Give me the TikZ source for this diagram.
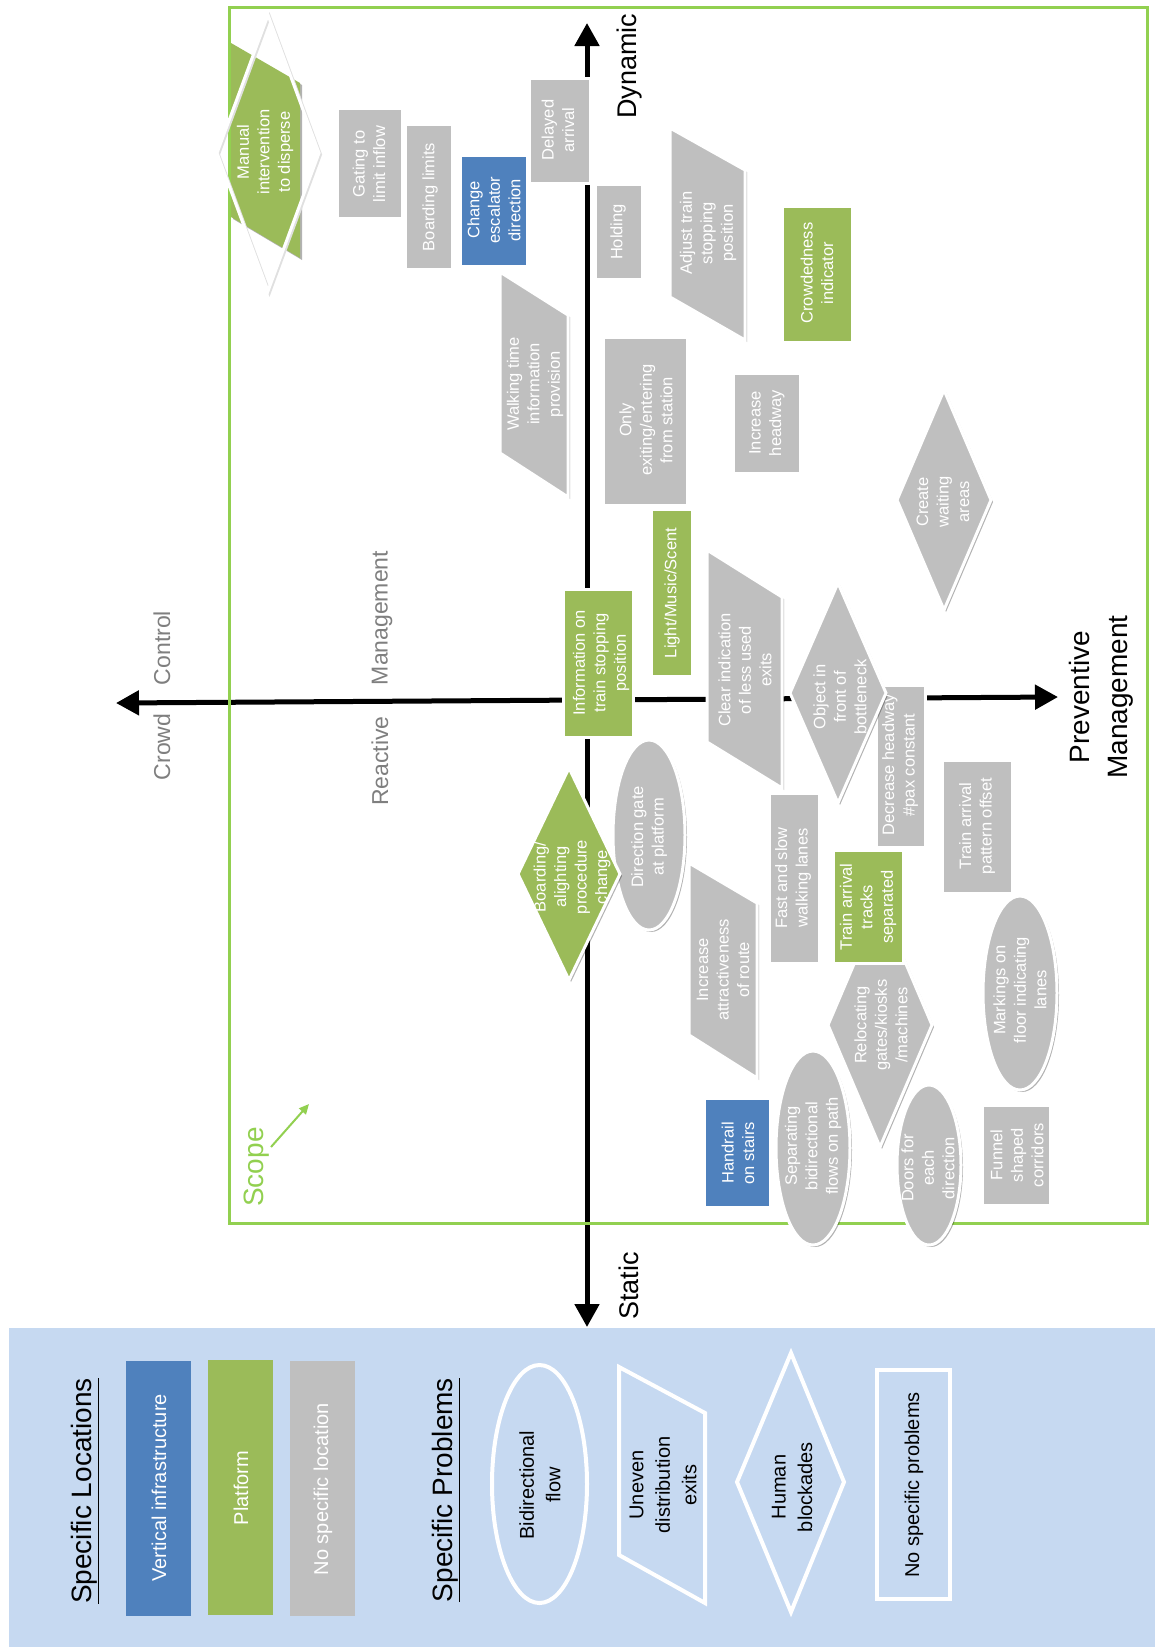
\documentclass[tikz,border=0pt]{standalone}
\usepackage{fontspec}
\setmainfont{Liberation Sans}
\usetikzlibrary{arrows.meta,shadows}
\definecolor{cgray}{HTML}{BFBFBF}
\definecolor{cgreen}{HTML}{9BBB59}
\definecolor{cblue}{HTML}{4F81BD}
\definecolor{cscope}{HTML}{92D050}
\definecolor{clegend}{HTML}{C6D9F1}
\definecolor{ctext}{HTML}{7F7F7F}
\begin{document}
\begin{tikzpicture}[x=1pt,y=-1pt,
  sh/.style={drop shadow={shadow xshift=2pt,shadow yshift=-2pt,opacity=0.3,fill=black}},
  shp/.style={draw=white,line width=3pt,line join=miter,sh},
  gshape/.style={shp,fill=cgray},
  grshape/.style={shp,fill=cgreen},
  blshape/.style={shp,fill=cblue},
  lbl/.style={text=white,align=center,rotate=90,inner sep=0pt,font=\fontsize{16.5}{20.5}\selectfont},
  leglbl/.style={align=center,rotate=90,inner sep=0pt,font=\fontsize{20}{26.5}\selectfont},
  legshape/.style={draw=white,line width=4pt},
  axis/.style={line width=5pt,{Triangle[length=23pt,width=24pt]}-{Triangle[length=23pt,width=24pt]}},
  axlbl/.style={rotate=90,inner sep=0pt,align=center},
  graylbl/.style={rotate=90,inner sep=0pt,text=ctext,font=\fontsize{23}{28}\selectfont}
]
\useasboundingbox (0,0) rectangle (1155,1647);
\fill[white] (0,0) rectangle (1155,1647);

% ---------------- legend ----------------
\fill[clegend] (9,1328) rectangle (1155,1647);
\node[axlbl,font=\fontsize{28}{34}\selectfont] (legloc) at (85,1491) {\underline{Specific Locations}};
\fill[cblue] (126,1361) rectangle (191,1616);
\node[leglbl,text=white] (legvert) at (159,1488) {Vertical infrastructure};
\fill[cgreen] (208,1360) rectangle (273,1615);
\node[leglbl,text=white] (legplat) at (241,1488) {Platform};
\fill[cgray] (290,1361) rectangle (355,1616);
\node[leglbl,text=white] (legnoloc) at (323,1489) {No specific location};
\node[axlbl,font=\fontsize{28}{34}\selectfont] (legprob) at (446,1490) {\underline{Specific Problems}};
\draw[legshape] (539.5,1484) ellipse [x radius=47.5, y radius=119];
\node[leglbl] (legbid) at (540,1485) {Bidirectional\\flow};
\draw[legshape] (619,1367) -- (705,1413) -- (705,1603) -- (619,1555) -- cycle;
\node[leglbl] (leguneven) at (663,1485) {Uneven\\distribution\\exits};
\draw[legshape] (791,1353) -- (844,1482) -- (791,1612) -- (737,1482) -- cycle;
\node[leglbl] (leghuman) at (792,1487) {Human\\blockades};
\draw[legshape] (877,1370) rectangle (950,1599);
\node[leglbl] (legnoprob) at (914,1485) {No specific problems};

% ---------------- axes ----------------
\coordinate (vTop) at (587,23);
\coordinate (vBot) at (587,1327);
\coordinate (hL) at (116,703);
\coordinate (hR) at (1058,697);
\draw[axis] (vBot) -- (vTop);
\draw[axis] (hL) -- (hR);
\node[axlbl,font=\fontsize{27}{32}\selectfont] (dyn) at (630,66) {Dynamic};
\node[axlbl,font=\fontsize{27}{32}\selectfont] (sta) at (629,1286) {Static};
\node[axlbl,font=\fontsize{28}{38}\selectfont] (prev) at (1101,697) {Preventive\\Management};
\node[graylbl] (crowd) at (162,747) {Crowd};
\node[graylbl] (control) at (162,648) {Control};
\node[graylbl] (reactive) at (380,761) {Reactive};
\node[graylbl] (manage) at (382,618) {Management};

% ---------------- scope frame ----------------
\draw[cscope,line width=3pt] (229,7) rectangle (1147,1223);
\node[axlbl,text=cscope,font=\fontsize{28}{34}\selectfont] (scope) at (257,1167) {Scope};
\coordinate (scA) at (271,1147);
\coordinate (scB) at (309,1104);
\draw[cscope,line width=2pt,-{Triangle[length=10pt,width=9pt]}] (scA) -- (scB);

% ---------------- shapes ----------------
% manual intervention
\path[fill=cgreen,sh] (231,43) -- (300,83) -- (300,258) -- (231,217) -- cycle;
\draw[black!12,line width=3pt,shift={(1.5,1.5)}] (268,15) -- (319,153) -- (268,291) -- (217,153) -- cycle;
\draw[white,line width=3pt] (268,15) -- (319,153) -- (268,291) -- (217,153) -- cycle;

\draw[gshape] (337,108) rectangle (402,218);
\draw[gshape] (405,124) rectangle (452,269);
\draw[blshape] (460,155) rectangle (527,266);
\draw[gshape] (529,78) rectangle (590,183);
\draw[gshape] (595,184) rectangle (642,279);
\draw[gshape] (500,272) -- (568,315) -- (568,497) -- (500,453) -- cycle;
\draw[gshape] (603,337) rectangle (687,505);
\draw[gshape] (670,128) -- (745,170) -- (745,340) -- (670,297) -- cycle;
\draw[grshape] (782,206) rectangle (852,342);
\draw[gshape] (733,373) rectangle (800,473);
\draw[gshape] (944,390) -- (991,500) -- (944,610) -- (897,500) -- cycle;
\draw[grshape] (651,509) rectangle (692,676);
\draw[grshape] (563,589) rectangle (633,737);
\draw[gshape] (707,550) -- (782,597) -- (782,788) -- (707,742) -- cycle;
\draw[gshape] (876,685) rectangle (925,847);
\draw[gshape] (838,583) -- (886,693) -- (838,803) -- (790,693) -- cycle;
\draw[gshape] (649,835) ellipse [x radius=36, y radius=95];
\draw[grshape] (569,768) -- (620,874) -- (569,980) -- (518,874) -- cycle;
\draw[gshape] (769,793) rectangle (819,963);
\draw[gshape] (689,863) -- (757,903) -- (757,1078) -- (689,1035) -- cycle;
\draw[gshape] (942,760) rectangle (1012,893);
\draw[gshape] (1020,993) ellipse [x radius=37, y radius=97];
\draw[gshape] (880,903) -- (932,1025) -- (880,1147) -- (828,1025) -- cycle;
\draw[grshape] (833,850) rectangle (903,963);
\draw[blshape] (704,1098) rectangle (770,1207);
\draw[gshape] (813,1148) ellipse [x radius=37, y radius=97];
\draw[gshape] (929,1165) ellipse [x radius=32, y radius=80];
\draw[gshape] (982,1105) rectangle (1050,1205);

% ---------------- labels ----------------
\node[lbl] (tManual) at (265,152) {Manual\\intervention\\to disperse};
\node[lbl] (tGating) at (369,164) {Gating to\\limit inflow};
\node[lbl] (tBoardLim) at (430,197) {Boarding limits};
\node[lbl] (tEscal) at (494,210) {Change\\escalator\\direction};
\node[lbl] (tDelayed) at (558,130) {Delayed\\arrival};
\node[lbl] (tHolding) at (618,232) {Holding};
\node[lbl] (tWalking) at (535,384) {Walking time\\information\\provision};
\node[lbl] (tOnly) at (646,420) {Only\\exiting/entering\\from station};
\node[lbl] (tAdjust) at (708,233) {Adjust train\\stopping\\position};
\node[lbl] (tCrowded) at (817,273) {Crowdedness\\indicator};
\node[lbl] (tIncHead) at (767,423) {Increase\\headway};
\node[lbl] (tWaiting) at (943,502) {Create\\waiting\\areas};
\node[lbl] (tLight) at (672,593) {Light/Music/Scent};
\node[lbl] (tInfo) at (601,663) {Information on\\train stopping\\position};
\node[lbl] (tClear) at (745,670) {Clear indication\\of less used\\exits};
\node[lbl] (tObject) at (840,697) {Object in\\front of\\bottleneck};
\node[lbl] (tDecHead) at (900,765) {Decrease headway\\\#pax constant};
\node[lbl] (tBoardAl) at (572,877) {Boarding/\\alighting\\procedure\\change};
\node[lbl] (tDirGate) at (649,837) {Direction gate\\at platform};
\node[lbl] (tFast) at (793,878) {Fast and slow\\walking lanes};
\node[lbl] (tAttract) at (723,970) {Increase\\attractiveness\\of route};
\node[lbl] (tPattern) at (977,826) {Train arrival\\pattern offset};
\node[lbl] (tMarkings) at (1020,990) {Markings on\\floor indicating\\lanes};
\node[lbl] (tReloc) at (881,1025) {Relocating\\gates/kiosks\\/machines};
\node[lbl] (tTracks) at (868,907) {Train arrival\\tracks\\separated};
\node[lbl] (tHandrail) at (738,1153) {Handrail\\on stairs};
\node[lbl] (tSeparating) at (813,1146) {Separating\\bidirectional\\flows on path};
\node[lbl] (tDoors) at (928,1168) {Doors for\\each\\direction};
\node[lbl] (tFunnel) at (1017,1155) {Funnel\\shaped\\corridors};
\end{tikzpicture}
\end{document}
